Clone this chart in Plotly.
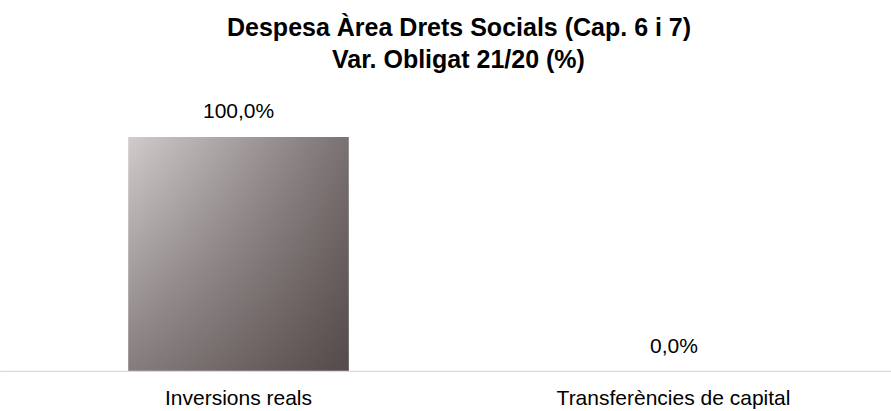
import plotly.graph_objects as go

categories = ["Inversions reals", "Transferències de capital"]
values = [100.0, 0.0]
value_labels = ["100,0%", "0,0%"]
title_lines = ["Despesa Àrea Drets Socials (Cap. 6 i 7)", "Var. Obligat 21/20 (%)"]

FONT = "Liberation Sans, Arial, sans-serif"
bar_width = 0.507
xs = list(range(len(categories)))

fig = go.Figure()

# invisible bars carry the data on the shared axes
fig.add_trace(go.Bar(x=xs, y=values, width=bar_width,
                     marker=dict(color="rgba(0,0,0,0)", line=dict(width=0)),
                     hoverinfo="skip", showlegend=False))

# gradient fill for each bar: horizontal base + vertical shading overlay
for i, v in zip(xs, values):
    if v == 0:
        continue
    x0, x1 = i - bar_width / 2, i + bar_width / 2
    px = [x0, x1, x1, x0, x0]
    py = [0, 0, v, v, 0]
    fig.add_trace(go.Scatter(x=px, y=py, mode="lines", fill="toself",
                             line=dict(width=0, color="rgba(0,0,0,0)"),
                             fillgradient=dict(type="horizontal",
                                               colorscale=[[0, "rgb(208,204,204)"], [1, "rgb(122,113,113)"]]),
                             hoverinfo="skip", showlegend=False))
    fig.add_trace(go.Scatter(x=px, y=py, mode="lines", fill="toself",
                             line=dict(width=0, color="rgba(0,0,0,0)"),
                             fillgradient=dict(type="vertical",
                                               colorscale=[[0, "rgba(38,24,24,0.44)"], [1, "rgba(38,24,24,0)"]]),
                             hoverinfo="skip", showlegend=False))

annotations = []
for i, v, lab in zip(xs, values, value_labels):
    annotations.append(dict(x=i, y=v, xref="x", yref="y", text=lab, showarrow=False,
                            yanchor="bottom", yshift=13,
                            font=dict(family=FONT, size=21, color="#000000")))

# two-line title as separate annotations for tighter line spacing
title_y = [1.222, 1.109]
for line, ty in zip(title_lines, title_y):
    annotations.append(dict(x=0.503, y=ty, xref="paper", yref="paper", text="<b>" + line + "</b>",
                            showarrow=False, xanchor="center", yanchor="middle",
                            font=dict(family=FONT, size=25, color="#000000")))

fig.update_layout(
    width=891, height=411,
    margin=dict(l=21, r=0, t=90, b=39),
    paper_bgcolor="white", plot_bgcolor="white",
    annotations=annotations,
    xaxis=dict(range=[-0.5, 1.5], tickvals=xs, ticktext=categories,
               showgrid=False, zeroline=False, showline=False,
               ticks="outside", ticklen=7, tickcolor="rgba(0,0,0,0)", automargin=False,
               tickfont=dict(family=FONT, size=21, color="#000000")),
    yaxis=dict(range=[0, 120], visible=False, showgrid=False, zeroline=False, automargin=False),
    shapes=[dict(type="line", xref="x domain", yref="y", x0=-0.024, x1=1, y0=0, y1=0,
                 line=dict(color="#d9d9d9", width=2.5), layer="above")],
    showlegend=False,
)

fig.write_html("out.html", config={"displayModeBar": False},
               post_script="document.body.style.margin='0';document.body.style.overflow='hidden';")
